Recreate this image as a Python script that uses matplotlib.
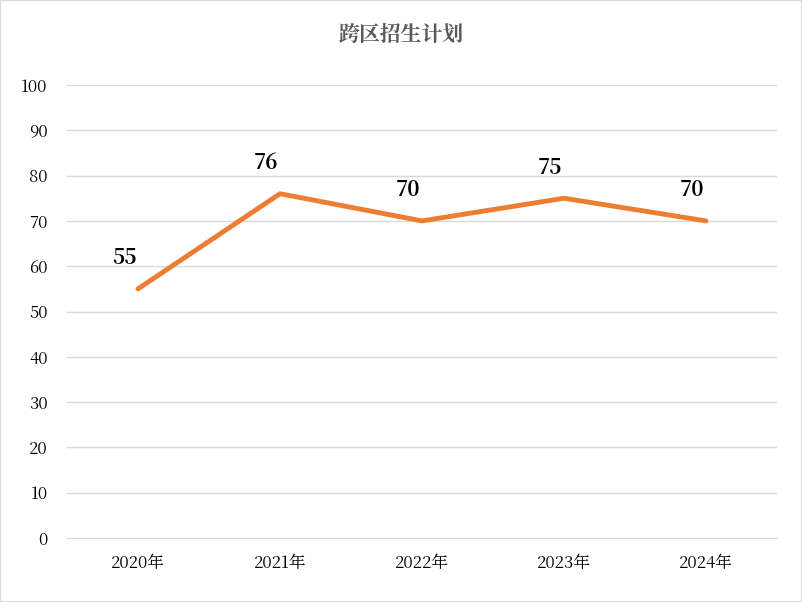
import matplotlib.pyplot as plt
from matplotlib import font_manager as fm
from matplotlib.patches import Rectangle

# pick any installed CJK font file and register it
cjk_name = None
for path in fm.findSystemFonts():
    if "CJK" in path or "cjk" in path.lower():
        try:
            fm.fontManager.addfont(path)
            cjk_name = fm.FontProperties(fname=path).get_name()
            if "SC" in cjk_name:
                break
        except Exception:
            pass
plt.rcParams["font.family"] = [cjk_name or "Noto Sans CJK SC", "DejaVu Sans"]

years = ["2020年", "2021年", "2022年", "2023年", "2024年"]
plan = [55, 76, 70, 75, 70]

W, H = 802, 602
fig = plt.figure(figsize=(W / 100, H / 100), dpi=100)
ax = fig.add_axes([67 / W, 1 - 538 / H, 710 / W, 453 / H])

x = list(range(len(years)))
ax.plot(x, plan, color="#ED7D31", linewidth=3.5, solid_capstyle="round")
for xi, v in zip(x, plan):
    ax.annotate(str(v), (xi, v), xytext=(-10, 22), textcoords="offset points",
                ha="center", va="center", fontsize=15, fontweight="bold", color="black")

ax.set_xlim(-0.5, len(years) - 0.5)
ax.set_ylim(0, 100)
ax.set_yticks(range(0, 101, 10))
ax.set_xticks(x)
ax.set_xticklabels(years)
ax.tick_params(axis="both", length=0, labelsize=12, colors="black")
ax.tick_params(axis="x", pad=12)
ax.tick_params(axis="y", pad=14)
ax.grid(axis="y", color="#D9D9D9", linewidth=1)
ax.set_axisbelow(True)
for s in ["top", "right", "left"]:
    ax.spines[s].set_visible(False)
ax.spines["bottom"].set_color("#D9D9D9")

fig.text(0.5, 1 - 35 / H, "跨区招生计划", ha="center", va="center",
         fontsize=15, fontweight="bold", color="#595959")
fig.patches.append(Rectangle((0, 0), 1, 1, transform=fig.transFigure, fill=False,
                             edgecolor="#D9D9D9", linewidth=1.5))

fig.savefig("out.png", dpi=100)
